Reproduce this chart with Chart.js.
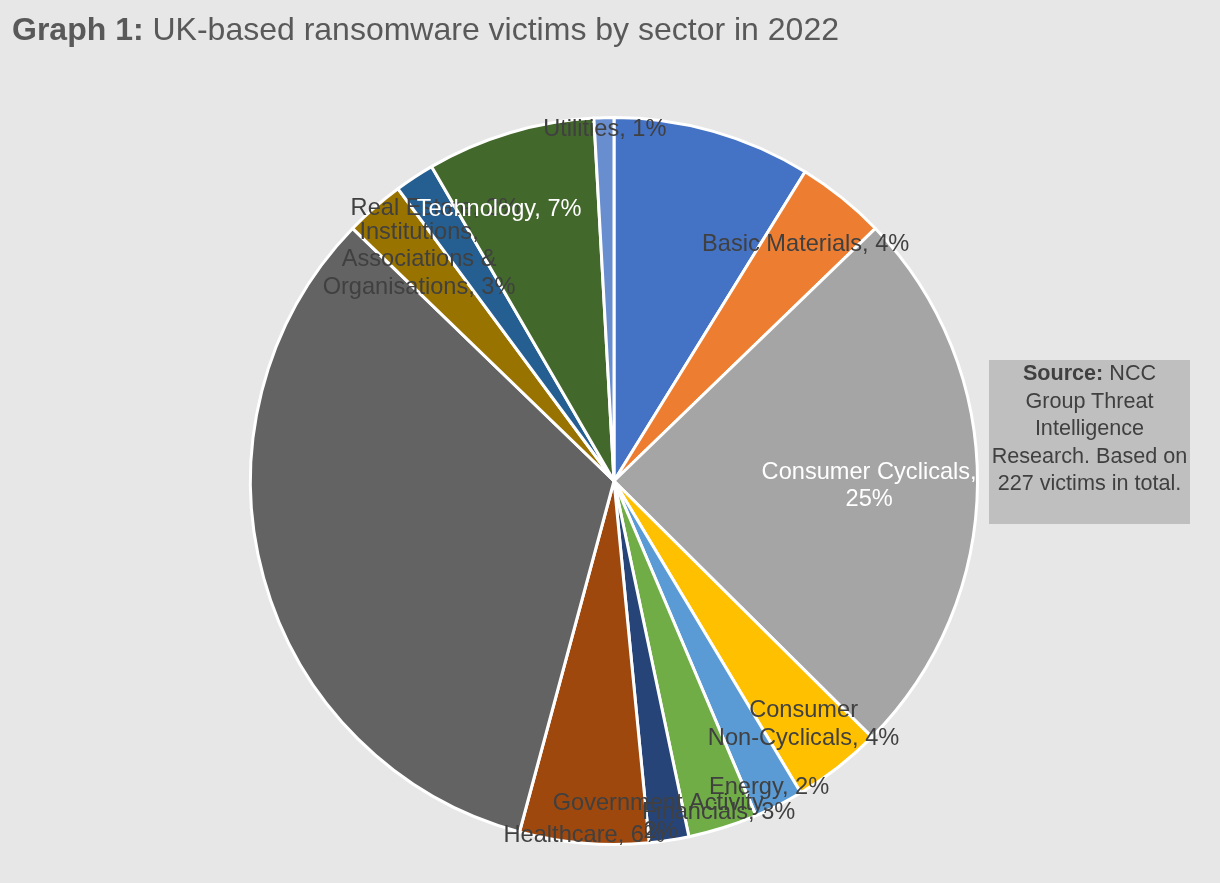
<!DOCTYPE html>
<html>
<head>
<meta charset="utf-8">
<script src="https://cdn.jsdelivr.net/npm/chart.js@4/dist/chart.umd.min.js"></script>
<style>
  html, body { margin: 0; padding: 0; background: #E7E7E7; }
  #wrap { position: relative; width: 1220px; height: 883px; background: #E7E7E7; overflow: hidden; }
  #title { position: absolute; left: 12px; top: 13px; font-family: "Liberation Sans", Arial, sans-serif; font-size: 32px; line-height: 32px; color: #595959; white-space: nowrap; }
  #title b { font-weight: bold; }
  #source { position: absolute; left: 989px; top: 360px; width: 201px; height: 164px; background: #BFBFBF; color: #404040;
            font-family: "Liberation Sans", Arial, sans-serif; font-size: 21.6px; line-height: 27.5px; text-align: center; box-sizing: border-box; padding-top: 0px; }
  #source div { position: relative; top: -1px; }
  canvas { position: absolute; left: 0; top: 0; }
</style>
</head>
<body>
<div id="wrap">
  <canvas id="c" width="1220" height="883"></canvas>
  <div id="title"><b>Graph 1:</b> UK-based ransomware victims by sector in 2022</div>
  <div id="source"><div><b>Source:</b> NCC<br>Group Threat<br>Intelligence<br>Research. Based on<br>227 victims in total.</div></div>
</div>
<script>
// ---- data ----
const categories = [
  "Academic & Educational Services",
  "Basic Materials",
  "Consumer Cyclicals",
  "Consumer Non-Cyclicals",
  "Energy",
  "Financials",
  "Government Activity",
  "Healthcare",
  "Industrials",
  "Institutions, Associations & Organisations",
  "Real Estate",
  "Technology",
  "Utilities"
];
const victims = [20, 9, 56, 9, 5, 7, 4, 13, 75, 6, 4, 17, 2];

// ---- styles ----
const sliceColors = ["#4472C4", "#ED7D31", "#A5A5A5", "#FFC000", "#5B9BD5", "#70AD47",
                     "#264478", "#9E480E", "#636363", "#997300", "#255E91", "#43682B", "#698ED0"];
// label layout: null = no label; lines use {pct} placeholder
const labelLines = [
  null,
  ["Basic Materials, {pct}"],
  ["Consumer Cyclicals,", "{pct}"],
  ["Consumer", "Non-Cyclicals, {pct}"],
  ["Energy, {pct}"],
  ["Financials, {pct}"],
  ["Government Activity,", "{pct}"],
  ["Healthcare, {pct}"],
  null,
  ["Institutions,", "Associations &", "Organisations, {pct}"],
  ["Real Estate, {pct}"],
  ["Technology, {pct}"],
  ["Utilities, {pct}"]
];
// polar position of each label (degrees clockwise from 12 o'clock, fraction of radius)
const labelAngle  = [0, 39.0, 91.1, 142.1, 153.2, 162.5, 172.1, 184.8, 0, 318.6, 326.7, 337.1, 358.5];
const labelRadius = [0, 0.838, 0.702, 0.849, 0.946, 0.957, 0.934, 0.979, 0, 0.811, 0.896, 0.812, 0.967];
const labelColor  = ["#404040", "#404040", "#FFFFFF", "#404040", "#404040", "#404040", "#404040",
                     "#404040", "#404040", "#404040", "#404040", "#FFFFFF", "#404040"];

const labelPlugin = {
  id: 'sliceLabels',
  afterDatasetsDraw(chart) {
    const ctx = chart.ctx;
    const meta = chart.getDatasetMeta(0);
    const data = chart.data.datasets[0].data;
    const total = data.reduce((a, b) => a + b, 0);
    ctx.save();
    ctx.font = '23.6px "Liberation Sans", Arial, sans-serif';
    ctx.textAlign = 'center';
    ctx.textBaseline = 'middle';
    const lh = 27.5;
    meta.data.forEach((arc, i) => {
      const lines = labelLines[i];
      if (!lines) return;
      const pct = Math.round(data[i] / total * 100) + '%';
      const a = labelAngle[i] * Math.PI / 180;
      const r = labelRadius[i] * arc.outerRadius;
      const x = arc.x + r * Math.sin(a);
      const y = arc.y - r * Math.cos(a);
      ctx.fillStyle = labelColor[i];
      const n = lines.length;
      lines.forEach((ln, k) => {
        ctx.fillText(ln.replace('{pct}', pct), x, y + (k - (n - 1) / 2) * lh);
      });
    });
    ctx.restore();
  }
};

new Chart(document.getElementById('c'), {
  type: 'pie',
  data: {
    labels: categories,
    datasets: [{
      data: victims,
      backgroundColor: sliceColors,
      borderColor: '#FFFFFF',
      borderWidth: 3
    }]
  },
  options: {
    responsive: false,
    animation: false,
    layout: { padding: { left: 249, right: 241, top: 116, bottom: 37 } },
    plugins: { legend: { display: false }, tooltip: { enabled: false }, title: { display: false } }
  },
  plugins: [labelPlugin]
});
</script>
</body>
</html>
